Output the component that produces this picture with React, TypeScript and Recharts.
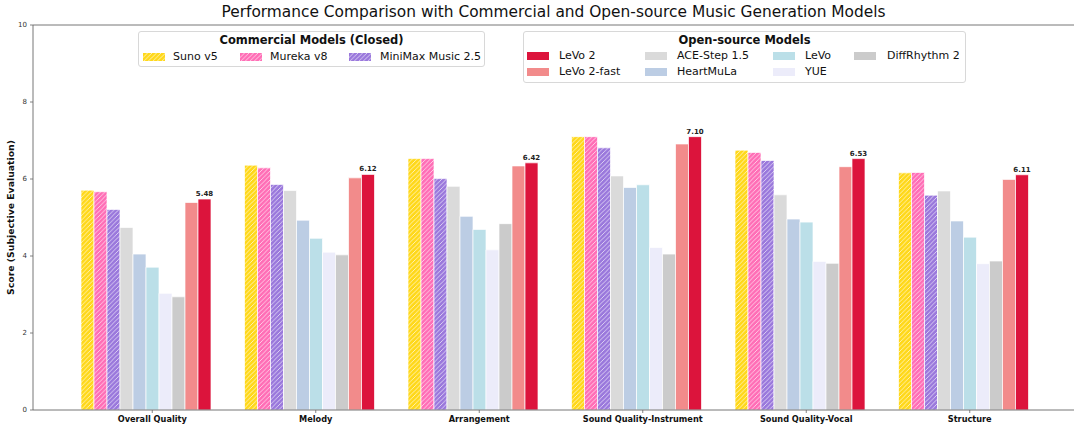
import { BarChart, Bar, XAxis, YAxis, ReferenceLine, LabelList } from "recharts";

const categories = [
  "Overall Quality",
  "Melody",
  "Arrangement",
  "Sound Quality-Instrument",
  "Sound Quality-Vocal",
  "Structure",
];

// scores
const sunoV5 = [5.71, 6.36, 6.53, 7.1, 6.75, 6.16];
const murekaV8 = [5.67, 6.29, 6.53, 7.1, 6.69, 6.17];
const miniMax25 = [5.21, 5.86, 6.01, 6.81, 6.48, 5.58];
const aceStep15 = [4.74, 5.7, 5.81, 6.08, 5.59, 5.69];
const heartMuLa = [4.05, 4.93, 5.03, 5.78, 4.96, 4.91];
const levo = [3.71, 4.46, 4.69, 5.85, 4.88, 4.49];
const yue = [3.03, 4.1, 4.16, 4.22, 3.86, 3.8];
const diffRhythm2 = [2.94, 4.03, 4.84, 4.05, 3.81, 3.87];
const levo2Fast = [5.39, 6.03, 6.34, 6.91, 6.32, 5.99];
const levo2 = [5.48, 6.12, 6.42, 7.1, 6.53, 6.11];

const yTicks = [0, 2, 4, 6, 8, 10];

type Series = { key: string; name: string; values: number[]; color: string; hatch?: string };

const series: Series[] = [
  { key: "suno", name: "Suno v5", values: sunoV5, color: "#FFD81A", hatch: "hatch-suno" },
  { key: "mureka", name: "Mureka v8", values: murekaV8, color: "#FF6EB6", hatch: "hatch-mureka" },
  { key: "minimax", name: "MiniMax Music 2.5", values: miniMax25, color: "#9A78DC", hatch: "hatch-minimax" },
  { key: "ace", name: "ACE-Step 1.5", values: aceStep15, color: "#DADADA" },
  { key: "heart", name: "HeartMuLa", values: heartMuLa, color: "#BCCDE4" },
  { key: "levo", name: "LeVo", values: levo, color: "#BBDFE8" },
  { key: "yue", name: "YUE", values: yue, color: "#ECECFA" },
  { key: "diff", name: "DiffRhythm 2", values: diffRhythm2, color: "#CBCBCB" },
  { key: "levo2fast", name: "LeVo 2-fast", values: levo2Fast, color: "#F28B8B" },
  { key: "levo2", name: "LeVo 2", values: levo2, color: "#DC143C" },
];

const data = categories.map((category, i) => {
  const row: Record<string, string | number> = { category };
  series.forEach((s) => (row[s.key] = s.values[i]));
  return row;
});

const byName = (n: string) => series.find((s) => s.name === n)!;
const commercialLegend = ["Suno v5", "Mureka v8", "MiniMax Music 2.5"];
const openLegend = [
  ["LeVo 2", "ACE-Step 1.5", "LeVo", "DiffRhythm 2"],
  ["LeVo 2-fast", "HeartMuLa", "YUE"],
];

const BAR = 13;
const FONT = "'DejaVu Sans', sans-serif";

function fillOf(s: Series) {
  return s.hatch ? `url(#${s.hatch})` : s.color;
}

function HatchDefs() {
  return (
    <svg width={0} height={0} style={{ position: "absolute" }}>
      <defs>
        {series
          .filter((s) => s.hatch)
          .map((s) => (
            <pattern
              key={s.key}
              id={s.hatch}
              patternUnits="userSpaceOnUse"
              width={4.5}
              height={4.5}
            >
              <rect width={4.5} height={4.5} fill={s.color} />
              <path
                d="M-1,1 L1,-1 M0,4.5 L4.5,0 M3.5,5.5 L5.5,3.5"
                stroke="#fff"
                strokeWidth={0.8}
                strokeOpacity={0.8}
              />
            </pattern>
          ))}
      </defs>
    </svg>
  );
}

function CategoryTick(props: any) {
  const { x, y, payload } = props;
  const tx = x + BAR / 2;
  return (
    <g>
      <line x1={tx} x2={tx} y1={y} y2={y + 3} stroke="#666" strokeWidth={0.8} />
      <text x={tx} y={y + 6} dy="0.71em" textAnchor="middle" fontSize={8.2} fontWeight="bold" fill="#111">
        {payload.value}
      </text>
    </g>
  );
}

function Swatch({ s }: { s: Series }) {
  return (
    <svg width={22} height={8} style={{ display: "block" }}>
      <rect width={22} height={8} fill={fillOf(s)} />
    </svg>
  );
}

function LegendItem({ name, left, top, textLeft }: { name: string; left: number; top: number; textLeft: number }) {
  const s = byName(name);
  return (
    <>
      <div style={{ position: "absolute", left, top: top - 4 }}>
        <Swatch s={s} />
      </div>
      <div style={{ position: "absolute", left: textLeft, top: top - 8, fontSize: 11, lineHeight: "16px", whiteSpace: "nowrap", color: "#111" }}>
        {name}
      </div>
    </>
  );
}

const boxStyle: React.CSSProperties = {
  position: "absolute",
  background: "rgba(255,255,255,0.85)",
  border: "1px solid #d8d8d8",
  borderRadius: 3,
  boxSizing: "border-box",
};

export default function App() {
  return (
    <div style={{ position: "absolute", left: 0, top: 0, width: 1080, height: 429, fontFamily: FONT, background: "#fff" }}>
      <HatchDefs />
      <BarChart
        width={1080}
        height={429}
        data={data}
        margin={{ top: 25, right: 6, bottom: 0, left: 0 }}
        barSize={BAR}
        barGap={0}
      >
        <XAxis
          dataKey="category"
          interval={0}
          height={19}
          padding={{ left: 31, right: 29 }}
          tickLine={false}
          tickSize={0}
          tickMargin={0}
          tick={<CategoryTick />}
          axisLine={{ stroke: "#666", strokeWidth: 0.9 }}
        />
        <YAxis
          domain={[0, 10]}
          ticks={yTicks}
          width={33}
          tickSize={3}
          tickMargin={3}
          tick={{ fontSize: 7, fill: "#333" }}
          axisLine={{ stroke: "#666", strokeWidth: 0.9 }}
          tickLine={{ stroke: "#666", strokeWidth: 0.8 }}
          label={{
            content: (p: any) => {
              const vb = p.viewBox;
              const cx = vb.x + 10;
              const cy = vb.y + vb.height / 2;
              return (
                <text x={cx} y={cy} transform={`rotate(-90 ${cx} ${cy})`} textAnchor="middle" dominantBaseline="central" fontSize={9.3} fontWeight="bold" fill="#111">
                  Score (Subjective Evaluation)
                </text>
              );
            },
          }}
        />
        <YAxis
          yAxisId="right"
          orientation="right"
          domain={[0, 10]}
          width={0}
          tick={false}
          tickLine={false}
          axisLine={{ stroke: "#666", strokeWidth: 0.9 }}
        />
        <ReferenceLine y={10} stroke="#666" strokeWidth={0.9} />
        {series.map((s) => (
          <Bar
            key={s.key}
            dataKey={s.key}
            name={s.name}
            fill={fillOf(s)}
            stroke="#fff"
            strokeWidth={0.7}
            isAnimationActive={false}
          >
            {s.key === "levo2" && (
              <LabelList
                dataKey={s.key}
                position="top"
                offset={3}
                formatter={(v: any) => Number(v).toFixed(2)}
                style={{ fontSize: 7, fontWeight: "bold", fill: "#222" }}
              />
            )}
          </Bar>
        ))}
      </BarChart>

      <div style={{ position: "absolute", left: 0, width: 1107, top: 2, textAlign: "center", fontSize: 15.4, lineHeight: "20px", color: "#111" }}>
        Performance Comparison with Commercial and Open-source Music Generation Models
      </div>

      <div style={{ ...boxStyle, left: 138, top: 31, width: 347, height: 36 }} />
      <div style={{ position: "absolute", left: 138, width: 347, top: 32, textAlign: "center", fontSize: 11.5, fontWeight: "bold", lineHeight: "16px", color: "#111" }}>
        Commercial Models (Closed)
      </div>
      {commercialLegend.map((n, i) => (
        <LegendItem key={n} name={n} left={[143, 240, 349][i]} textLeft={[173, 270, 380][i]} top={57} />
      ))}

      <div style={{ ...boxStyle, left: 523, top: 31, width: 443, height: 52 }} />
      <div style={{ position: "absolute", left: 523, width: 443, top: 32, textAlign: "center", fontSize: 11.5, fontWeight: "bold", lineHeight: "16px", color: "#111" }}>
        Open-source Models
      </div>
      {openLegend.map((row, r) =>
        row.map((n, c) => (
          <LegendItem
            key={n}
            name={n}
            left={[527, 645, 773, 854][c]}
            textLeft={[559, 677, 805, 887][c]}
            top={[56, 72][r]}
          />
        ))
      )}
    </div>
  );
}
